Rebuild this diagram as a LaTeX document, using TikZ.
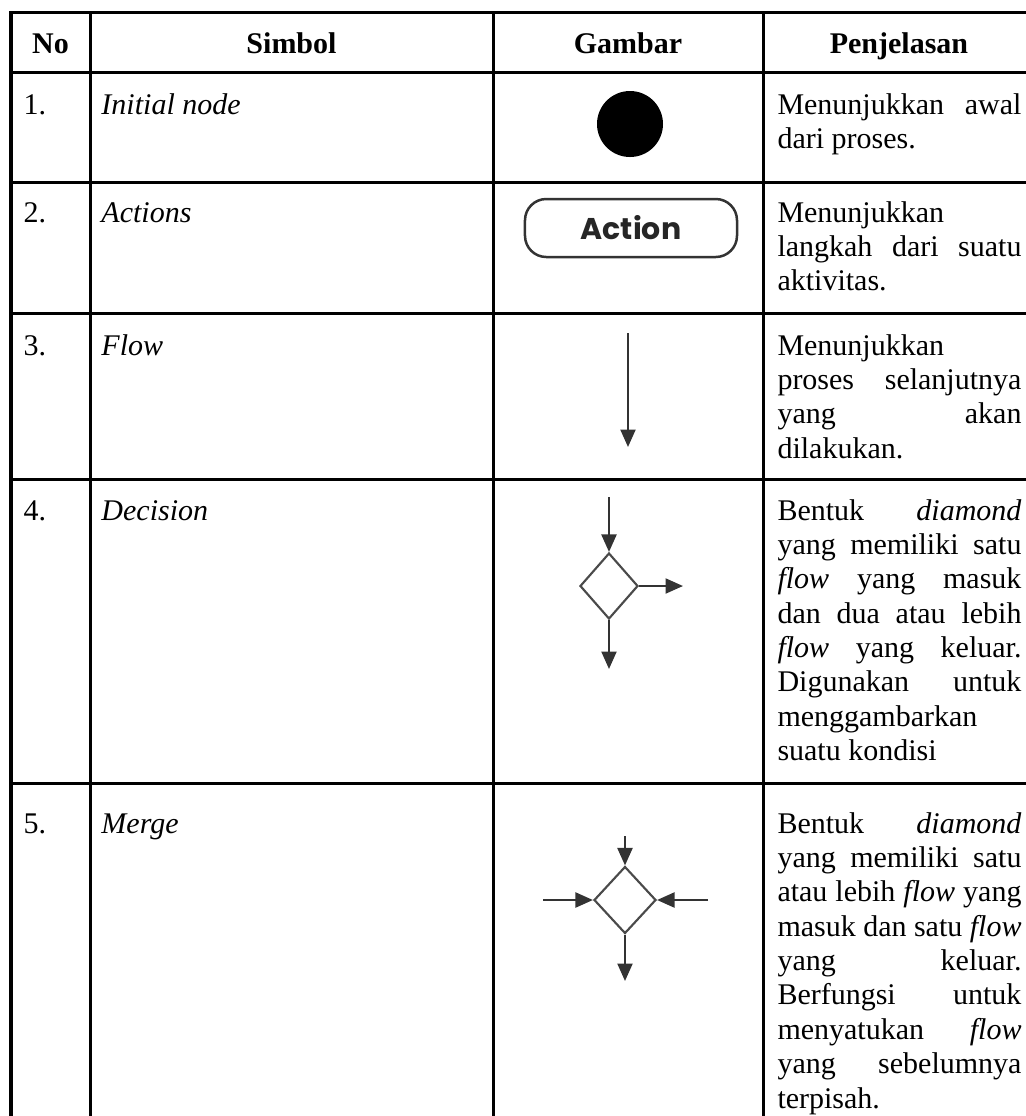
\documentclass[tikz,border=0pt]{standalone}
\usepackage{fontspec}
\setmainfont{Liberation Serif}
\newfontfamily\actionfont{Poppins}
\usetikzlibrary{shapes.geometric,arrows.meta}

% one justified line / one flush-left line of a description cell
\newcommand\jline[1]{\hbox to \hsize{#1}}
\newcommand\lline[1]{\hbox{#1}}
\newcommand\cellbody[1]{\vtop{\hsize=97.6pt\baselineskip=13.75pt\lineskiplimit=-20pt\relax #1}}

\definecolor{symline}{HTML}{333333}
\definecolor{symdiam}{HTML}{4A4A4A}

\tikzset{
  rule/.style={line width=1.2pt, line cap=rect},
  txt/.style={inner sep=0pt, font=\fontsize{12pt}{13.75pt}\selectfont},
  head/.style={txt, font=\fontsize{12pt}{13.75pt}\selectfont\bfseries, anchor=base},
  cell/.style={txt, anchor=base west},
  flowline/.style={draw=symline, line width=0.9pt, -{Triangle[width=6pt,length=7pt]}},
  diam/.style={diamond, draw=symdiam, line width=0.85pt, inner sep=0pt},
}

\begin{document}
\begin{tikzpicture}[x=0.4pt,y=-0.4pt]
\useasboundingbox (0,0) rectangle (1026,1116);

% table rules
\foreach \yy in {12,72,182,313,479,783}
  \draw[rule] (11,\yy) -- (1030,\yy);
\foreach \xx in {11,90,493,763}
  \draw[rule] (\xx,12) -- (\xx,1120);

% header
\node[head] (hno)  at (50.5,53) {No};
\node[head] (hsym) at (291.5,53) {Simbol};
\node[head] (hgam) at (628,53) {Gambar};
\node[head] (hpen) at (899,53) {Penjelasan};

% numbers
\node[cell] (n1) at (23,114) {1.};
\node[cell] (n2) at (23,222) {2.};
\node[cell] (n3) at (23,355) {3.};
\node[cell] (n4) at (23,520) {4.};
\node[cell] (n5) at (23,833) {5.};

% symbol names
\node[cell] (s1) at (101,114) {\textit{Initial node}};
\node[cell] (s2) at (101,222) {\textit{Actions}};
\node[cell] (s3) at (101,355) {\textit{Flow}};
\node[cell] (s4) at (101,520) {\textit{Decision}};
\node[cell] (s5) at (101,833) {\textit{Merge}};

% descriptions
\node[cell] (p1) at (777,114) {\cellbody{%
  \jline{Menunjukkan awal}
  \lline{dari proses.}}};
\node[cell] (p2) at (777,222) {\cellbody{%
  \lline{Menunjukkan}
  \jline{langkah dari suatu}
  \lline{aktivitas.}}};
\node[cell] (p3) at (777,355) {\cellbody{%
  \lline{Menunjukkan}
  \jline{proses selanjutnya}
  \jline{yang akan}
  \lline{dilakukan.}}};
\node[cell] (p4) at (777,520) {\cellbody{%
  \jline{Bentuk \textit{diamond}}
  \jline{yang memiliki satu}
  \jline{\textit{flow} yang masuk}
  \jline{dan dua atau lebih}
  \jline{\textit{flow} yang keluar.}
  \jline{Digunakan untuk}
  \lline{menggambarkan}
  \lline{suatu kondisi}}};
\node[cell] (p5) at (777,833) {\cellbody{%
  \jline{Bentuk \textit{diamond}}
  \jline{yang memiliki satu}
  \jline{atau lebih \textit{flow} yang}
  \jline{masuk dan satu \textit{flow}}
  \jline{yang keluar.}
  \jline{Berfungsi untuk}
  \jline{menyatukan \textit{flow}}
  \jline{yang sebelumnya}
  \lline{terpisah.}}};

% 1. initial node
\node[circle, fill=black, minimum size=26.4pt, inner sep=0pt] (init) at (630,124) {};

% 2. action
\node[draw=symline, line width=1pt, rounded corners=8.5pt,
      minimum width=84.8pt, minimum height=23.2pt, inner sep=0pt,
      font=\actionfont\bfseries\fontsize{12pt}{14pt}\selectfont, text=black!85] (act) at (631,228) {Action};

% 3. flow
\coordinate (ftop) at (628,333);
\coordinate (fbot) at (628,447);
\draw[flowline] (ftop) -- (fbot);

% 4. decision
\node[diam, minimum width=23.2pt, minimum height=26.4pt] (dec) at (609,586) {};
\coordinate (din) at (609,497);
\coordinate (dright) at (683,586);
\coordinate (ddown) at (609,669);
\draw[flowline] (din) -- (dec.north);
\draw[flowline] (dec.east) -- (dright);
\draw[flowline] (dec.south) -- (ddown);

% 5. merge
\node[diam, minimum width=24.8pt, minimum height=26.8pt] (mrg) at (625,900) {};
\coordinate (min) at (625,836);
\coordinate (mleft) at (543,900);
\coordinate (mright) at (708,900);
\coordinate (mdown) at (625,981);
\draw[flowline] (min) -- (mrg.north);
\draw[flowline] (mleft) -- (mrg.west);
\draw[flowline] (mright) -- (mrg.east);
\draw[flowline] (mrg.south) -- (mdown);
\end{tikzpicture}
\end{document}
